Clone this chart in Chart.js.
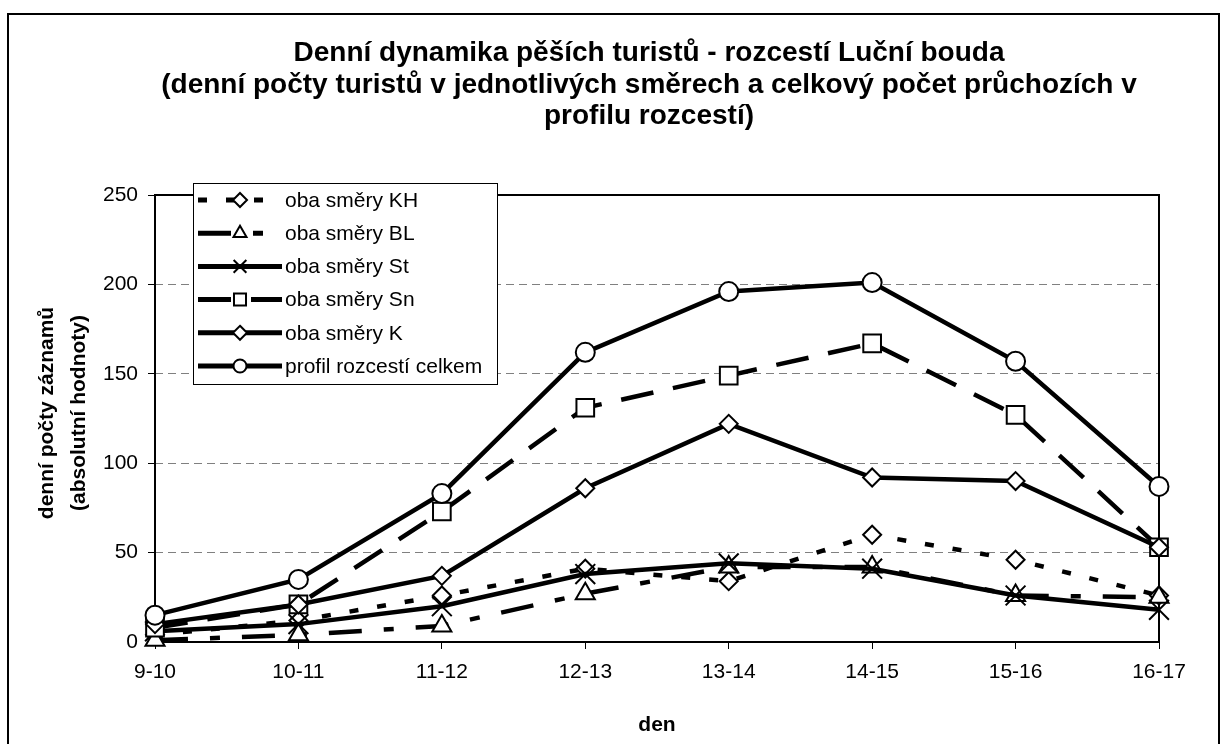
<!DOCTYPE html>
<html><head><meta charset="utf-8">
<script src="https://cdn.jsdelivr.net/npm/chart.js@4"></script>
<style>html,body{margin:0;padding:0;background:#fff}canvas{display:block}</style>
</head><body>
<canvas id="c" width="1221" height="744"></canvas>
<script>
// ---- data ----
const categories = ['9-10','10-11','11-12','12-13','13-14','14-15','15-16','16-17'];
const obaKH  = [4, 12, 26, 41, 34, 60, 46, 26];
const obaBL  = [1, 4, 9, 27, 42, 42, 26, 25];
const obaSt  = [6, 10, 20, 38, 44, 41, 26, 18];
const obaSn  = [8, 21, 73, 131, 149, 167, 127, 53];
const obaK   = [10, 21, 37, 86, 122, 92, 90, 53];
const profil = [15, 35, 83, 162, 196, 201, 157, 87];
const seriesNames = ['oba směry KH','oba směry BL','oba směry St','oba směry Sn','oba směry K','profil rozcestí celkem'];
const yTickValues = [0, 50, 100, 150, 200, 250];
const titleLines = [
  'Denní dynamika pěších turistů - rozcestí Luční bouda',
  '(denní počty turistů v jednotlivých směrech a celkový počet průchozích v',
  'profilu rozcestí)'
];
const yTitleLines = ['denní počty záznamů', '(absolutní hodnoty)'];
const xTitle = 'den';

const FONT = "'Liberation Sans', Arial, sans-serif";

const styles = [
  {dash:[9,19], point:'rectRot', r:9, lr:7},
  {dash:[33,22,10,22], point:'triangle', r:11, lr:7.5},
  {dash:[], point:'crossRot', r:14, lr:9},
  {dash:[33,20], point:'rect', r:12.5, lr:8.5},
  {dash:[], point:'rectRot', r:9, lr:7},
  {dash:[], point:'circle', r:9.5, lr:6.5}
];
const seriesData = [obaKH, obaBL, obaSt, obaSn, obaK, profil];

const datasets = seriesData.map((d, i) => ({
  label: seriesNames[i],
  data: d,
  borderColor: '#000',
  borderWidth: 4.5,
  borderDash: styles[i].dash,
  borderCapStyle: 'butt',
  pointStyle: styles[i].point,
  pointRadius: styles[i].r,
  pointBackgroundColor: '#fff',
  pointBorderColor: '#000',
  pointBorderWidth: 2,
  tension: 0,
  fill: false,
  clip: false,
  order: 5 - i
}));

function drawMarker(ctx, style, x, y, r) {
  ctx.save();
  ctx.setLineDash([]);
  ctx.lineWidth = 2;
  ctx.strokeStyle = '#000';
  ctx.fillStyle = '#fff';
  ctx.beginPath();
  if (style === 'circle') {
    ctx.arc(x, y, r, 0, Math.PI * 2);
  } else if (style === 'rect') {
    const s = r * Math.SQRT1_2;
    ctx.rect(x - s, y - s, 2 * s, 2 * s);
  } else if (style === 'rectRot') {
    ctx.moveTo(x, y - r); ctx.lineTo(x + r, y); ctx.lineTo(x, y + r); ctx.lineTo(x - r, y); ctx.closePath();
  } else if (style === 'triangle') {
    ctx.moveTo(x, y - r); ctx.lineTo(x + r * 0.866, y + r / 2); ctx.lineTo(x - r * 0.866, y + r / 2); ctx.closePath();
  } else if (style === 'crossRot') {
    const s = r * Math.SQRT1_2;
    ctx.moveTo(x - s, y - s); ctx.lineTo(x + s, y + s);
    ctx.moveTo(x + s, y - s); ctx.lineTo(x - s, y + s);
    ctx.stroke(); ctx.restore(); return;
  }
  ctx.fill(); ctx.stroke();
  ctx.restore();
}

const decor = {
  id: 'decor',
  beforeDraw(chart) {
    const ctx = chart.ctx;
    ctx.save();
    ctx.fillStyle = '#fff';
    ctx.fillRect(0, 0, chart.width, chart.height);
    ctx.lineWidth = 2;
    ctx.strokeStyle = '#000';
    ctx.strokeRect(8, 14, 1211, 740);
    ctx.restore();
  },
  beforeDatasetsDraw(chart) {
    const ctx = chart.ctx, a = chart.chartArea;
    ctx.save();
    ctx.lineWidth = 2;
    ctx.strokeStyle = '#000';
    ctx.strokeRect(a.left, a.top, a.right - a.left, a.bottom - a.top);
    ctx.restore();
  },
  afterDraw(chart) {
    const ctx = chart.ctx, a = chart.chartArea;
    ctx.save();
    ctx.fillStyle = '#000';
    // title
    ctx.font = 'bold 28px ' + FONT;
    ctx.textAlign = 'center';
    ctx.textBaseline = 'alphabetic';
    const tb = [61, 93, 124];
    titleLines.forEach((t, i) => ctx.fillText(t, 649, tb[i]));
    // x title
    ctx.font = 'bold 21px ' + FONT;
    ctx.fillText(xTitle, (a.left + a.right) / 2, 731);
    // y title
    const yb = [53, 85];
    yTitleLines.forEach((t, i) => {
      ctx.save();
      ctx.translate(yb[i], 413);
      ctx.rotate(-Math.PI / 2);
      ctx.fillText(t, 0, 0);
      ctx.restore();
    });
    // legend
    const lx = 193, ly = 183, lw = 304, lh = 201;
    ctx.fillStyle = '#fff';
    ctx.fillRect(lx, ly, lw, lh);
    ctx.lineWidth = 1;
    ctx.strokeStyle = '#000';
    ctx.strokeRect(lx + 0.5, ly + 0.5, lw, lh);
    ctx.font = '21px ' + FONT;
    ctx.textAlign = 'left';
    ctx.textBaseline = 'middle';
    seriesNames.forEach((name, i) => {
      const y = 200 + i * 33.2;
      ctx.save();
      ctx.lineWidth = 5;
      ctx.strokeStyle = '#000';
      ctx.lineCap = 'butt';
      ctx.setLineDash(styles[i].dash);
      ctx.beginPath();
      ctx.moveTo(198, y); ctx.lineTo(282, y);
      ctx.stroke();
      ctx.restore();
      drawMarker(ctx, styles[i].point, 240, y, styles[i].lr);
      ctx.fillStyle = '#000';
      ctx.fillText(name, 285, y + 1);
    });
    ctx.restore();
  }
};

new Chart(document.getElementById('c'), {
  type: 'line',
  data: { labels: categories, datasets },
  options: {
    responsive: false,
    animation: false,
    devicePixelRatio: 1,
    layout: { padding: { left: 8, right: 62, top: 195, bottom: 0 } },
    plugins: { legend: { display: false }, tooltip: { enabled: false }, title: { display: false } },
    scales: {
      x: {
        type: 'category',
        offset: false,
        grid: { display: true, drawOnChartArea: false, drawTicks: true, tickLength: 7, tickColor: '#000', tickWidth: 1 },
        border: { display: false },
        ticks: { color: '#000', font: { family: FONT, size: 21 }, padding: 11, maxRotation: 0, autoSkip: false },
        afterFit(s) { s.height = 102; }
      },
      y: {
        min: 0, max: 250,
        afterBuildTicks(s) { s.ticks = yTickValues.map(v => ({ value: v })); },
        grid: {
          color: c => (c.tick && (c.tick.value === 0 || c.tick.value === 250)) ? 'rgba(0,0,0,0)' : '#808080',
          lineWidth: 1, drawTicks: true, tickLength: 7, tickColor: '#000', tickWidth: 1
        },
        border: { display: false, dash: [8, 5] },
        ticks: { color: '#000', font: { family: FONT, size: 21 }, padding: 10 },
        afterFit(s) { s.width = 147; }
      }
    }
  },
  plugins: [decor]
});
</script>
</body></html>
